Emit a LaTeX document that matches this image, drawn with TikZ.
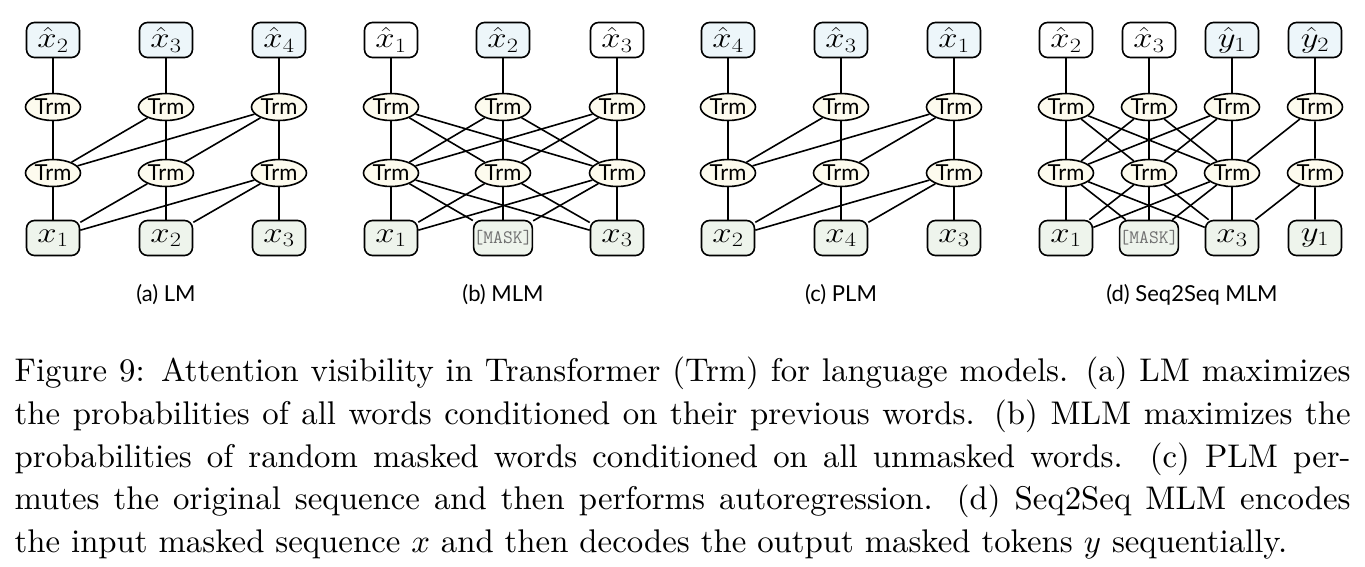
\documentclass[tikz,border=0pt]{standalone}
\usepackage{fix-cm}
\usepackage{fontspec}
\usepackage{graphicx}
\setsansfont{Lato}
\usetikzlibrary{shapes.geometric}
\definecolor{topblue}{HTML}{EDF6FA}
\definecolor{botgreen}{HTML}{EEF4EC}
\definecolor{trmfill}{HTML}{FDFBEE}
\definecolor{maskgray}{HTML}{707070}
\tikzset{
  tok/.style={draw, rounded corners=8pt, minimum width=53pt, minimum height=35pt, inner sep=0pt, line width=1.6pt, font=\fontsize{29}{30}\selectfont},
  outb/.style={tok, fill=topblue},
  outw/.style={tok, fill=white},
  inb/.style={tok, fill=botgreen},
  trm/.style={draw, ellipse, fill=trmfill, minimum width=55pt, minimum height=27pt, inner sep=0pt, line width=1.6pt, font=\sffamily\fontsize{22}{23}\selectfont},
  conn/.style={line width=1.6pt},
  subcap/.style={font=\sffamily\fontsize{22}{23}\selectfont},
  capline/.style={anchor=base west, inner sep=0pt, scale=3.28},
}
\newcommand{\maskt}{{\ttfamily\fontsize{19}{20}\selectfont\color{maskgray}[MASK]}}
\newcommand{\lbl}[1]{\scalebox{1.2}[1]{$#1$}}
\newcommand{\fullline}[1]{\makebox[407.3pt][s]{#1}}
\begin{document}
\begin{tikzpicture}[x=1pt,y=-1pt]
\path[use as bounding box] (0,0) rectangle (1365,566);

% ---------- (a) LM ----------
\node[outb] (a-o1) at (53,40) {\lbl{\hat{x}_2}};
\node[outb] (a-o2) at (166,40) {\lbl{\hat{x}_3}};
\node[outb] (a-o3) at (279,40) {\lbl{\hat{x}_4}};
\foreach \c/\x in {1/53,2/166,3/279}{
  \node[trm] (a-u\c) at (\x,107) {Trm};
  \node[trm] (a-l\c) at (\x,173) {Trm};
}
\node[inb] (a-i1) at (53,238) {\lbl{x_1}};
\node[inb] (a-i2) at (166,238) {\lbl{x_2}};
\node[inb] (a-i3) at (279,238) {\lbl{x_3}};
\foreach \c in {1,2,3}{
  \draw[conn] (a-o\c)--(a-u\c) (a-u\c)--(a-l\c) (a-l\c)--(a-i\c);
}
\draw[conn] (a-u2)--(a-l1) (a-u3)--(a-l1) (a-u3)--(a-l2)
            (a-l2)--(a-i1) (a-l3)--(a-i1) (a-l3)--(a-i2);
\node[subcap] (capa) at (166,295) {(a) LM};

% ---------- (b) MLM ----------
\node[outw] (b-o1) at (391,40) {\lbl{\hat{x}_1}};
\node[outb] (b-o2) at (503,40) {\lbl{\hat{x}_2}};
\node[outw] (b-o3) at (617,40) {\lbl{\hat{x}_3}};
\foreach \c/\x in {1/391,2/503,3/617}{
  \node[trm] (b-u\c) at (\x,107) {Trm};
  \node[trm] (b-l\c) at (\x,173) {Trm};
}
\node[inb] (b-i1) at (391,238) {\lbl{x_1}};
\node[inb] (b-i2) at (503,238) {\maskt};
\node[inb] (b-i3) at (617,238) {\lbl{x_3}};
\foreach \c in {1,2,3}{
  \draw[conn] (b-o\c)--(b-u\c);
}
\foreach \i in {1,2,3}{
  \foreach \j in {1,2,3}{
    \draw[conn] (b-u\i)--(b-l\j);
    \draw[conn] (b-l\i)--(b-i\j);
  }
}
\node[subcap] (capb) at (503,295) {(b) MLM};

% ---------- (c) PLM ----------
\node[outb] (c-o1) at (728,40) {\lbl{\hat{x}_4}};
\node[outb] (c-o2) at (841,40) {\lbl{\hat{x}_3}};
\node[outb] (c-o3) at (954,40) {\lbl{\hat{x}_1}};
\foreach \c/\x in {1/728,2/841,3/954}{
  \node[trm] (c-u\c) at (\x,107) {Trm};
  \node[trm] (c-l\c) at (\x,173) {Trm};
}
\node[inb] (c-i1) at (728,238) {\lbl{x_2}};
\node[inb] (c-i2) at (841,238) {\lbl{x_4}};
\node[inb] (c-i3) at (954,238) {\lbl{x_3}};
\foreach \c in {1,2,3}{
  \draw[conn] (c-o\c)--(c-u\c) (c-u\c)--(c-l\c) (c-l\c)--(c-i\c);
}
\draw[conn] (c-u2)--(c-l1) (c-u3)--(c-l1) (c-u3)--(c-l2)
            (c-l2)--(c-i1) (c-l3)--(c-i1) (c-l3)--(c-i2);
\node[subcap] (capc) at (841,295) {(c) PLM};

% ---------- (d) Seq2Seq MLM ----------
\node[outw] (d-o1) at (1066,40) {\lbl{\hat{x}_2}};
\node[outw] (d-o2) at (1149,40) {\lbl{\hat{x}_3}};
\node[outb] (d-o3) at (1232,40) {\lbl{\hat{y}_1}};
\node[outb] (d-o4) at (1315,40) {\lbl{\hat{y}_2}};
\foreach \c/\x in {1/1066,2/1149,3/1232,4/1315}{
  \node[trm] (d-u\c) at (\x,107) {Trm};
  \node[trm] (d-l\c) at (\x,173) {Trm};
}
\node[inb] (d-i1) at (1066,238) {\lbl{x_1}};
\node[inb] (d-i2) at (1149,238) {\maskt};
\node[inb] (d-i3) at (1232,238) {\lbl{x_3}};
\node[inb] (d-i4) at (1315,238) {\lbl{y_1}};
\foreach \c in {1,2,3,4}{
  \draw[conn] (d-o\c)--(d-u\c);
}
\foreach \i in {1,2,3}{
  \foreach \j in {1,2,3}{
    \draw[conn] (d-u\i)--(d-l\j);
    \draw[conn] (d-l\i)--(d-i\j);
  }
}
\draw[conn] (d-u4)--(d-l3) (d-u4)--(d-l4) (d-l4)--(d-i3) (d-l4)--(d-i4);
\node[subcap] (capd) at (1192,295) {(d) Seq2Seq MLM};

% ---------- figure caption ----------
\node[capline] (cl1) at (14,381) {\fullline{Figure 9: Attention visibility in Transformer (Trm) for language models. (a) LM maximizes}};
\node[capline] (cl2) at (14,424) {\fullline{the probabilities of all words conditioned on their previous words. (b) MLM maximizes the}};
\node[capline] (cl3) at (14,467) {\fullline{probabilities of random masked words conditioned on all unmasked words. (c) PLM per-}};
\node[capline] (cl4) at (14,509) {\fullline{mutes the original sequence and then performs autoregression. (d) Seq2Seq MLM encodes}};
\node[capline] (cl5) at (14,552) {the input masked sequence $x$ and then decodes the output masked tokens $y$ sequentially.};
\end{tikzpicture}
\end{document}
